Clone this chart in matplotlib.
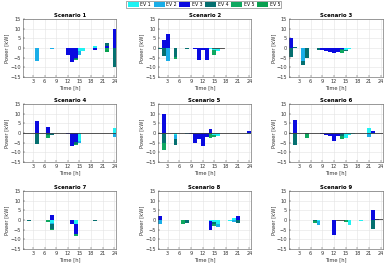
import matplotlib
matplotlib.use("Agg")
import matplotlib.pyplot as plt
import numpy as np

# hourly stacked power per EV (hour: kW), zero elsewhere
hours = np.arange(1, 25)
ev_labels = ["EV 1", "EV 2", "EV 3", "EV 4", "EV 5", "EV 5"]
ev_colors = ["#1ef2f2", "#1aaee8", "#0a0ae0", "#057070", "#0fa860", "#08a050"]

scenario1 = [
    {15: -1.5, 16: -1.6, 19: 1.2},
    {4: -7, 8: -0.5, 15: -2},
    {12: -3.5, 13: -7.3, 14: -5, 19: -0.9, 22: 1.2, 24: 10},
    {14: -0.8, 22: 1.3, 24: -10},
    {14: -0.6, 22: -1.2},
    {22: -0.8},
]
scenario2 = [
    {14: -0.5, 15: -1.2, 16: -1.5, 17: -0.3},
    {3: -7},
    {2: 4, 3: 7, 10: -0.8, 11: -6.5, 12: -1, 13: -6.5},
    {1: -0.8, 2: -4, 5: -4.8, 8: -0.7, 14: -0.3},
    {5: -0.7, 15: -2.3},
    {},
]
scenario3 = [
    {15: -1, 16: -0.8, 17: -0.3},
    {4: -7},
    {1: 5, 9: -1, 10: -1.5, 11: -2, 12: -2.5, 13: -2, 14: -0.5},
    {1: -4.5, 2: 0.3, 4: -2, 5: -5.3, 8: -1, 14: -0.7, 15: -0.4},
    {14: -1.3},
    {},
]
scenario4 = [
    {15: -4, 24: 2.5},
    {8: -0.8, 15: -1, 24: -2},
    {4: 6, 7: 3, 12: -0.4, 13: -7, 14: -4.5},
    {4: -5.5, 7: -1, 8: -0.3, 14: -1},
    {7: -1.5, 14: -1},
    {},
]
scenario5 = [
    {5: -1, 15: -1, 16: -1.7, 24: -0.8},
    {5: -2, 8: -0.5},
    {2: 10, 9: -0.5, 10: -5, 11: -3, 12: -7, 13: -2, 14: 2, 24: 1},
    {2: -5, 5: -3.5, 14: -0.5},
    {2: -4, 14: -2, 15: -1},
    {},
]
scenario6 = [
    {15: -2.5, 16: -1, 17: -0.5, 21: 2.3, 22: -0.8},
    {21: -2},
    {2: 6.5, 9: -0.8, 10: -1.2, 11: -1.5, 12: -4, 13: -1.5, 14: -0.5, 22: 0.8},
    {2: -6, 5: -0.5, 8: -0.3, 14: -1.3},
    {5: -2.3, 14: -1.5},
    {},
]
scenario7 = [
    {8: -1.5, 14: -2},
    {8: -0.5},
    {8: 2.5, 13: -2.2, 14: -5},
    {2: -0.3, 8: -2.5, 19: -0.3},
    {7: -1.2, 8: -0.8, 14: -1},
    {},
]
scenario8 = [
    {14: -0.5, 15: -1, 16: -2, 19: -0.5, 20: 1},
    {1: -2, 16: -1.5, 20: -1},
    {1: 2, 14: -4.5, 21: 2},
    {8: -1.5, 13: 0.2, 15: -1, 21: -1.5},
    {7: -1.8, 15: -1.2},
    {},
]
scenario9 = [
    {8: -0.5, 16: -2.8, 19: -0.3},
    {8: -2},
    {12: -7.5, 22: 5, 23: 0.5},
    {7: -0.3, 13: -0.2, 22: -4.5},
    {7: -1, 15: -0.8},
    {},
]
scenarios = [scenario1, scenario2, scenario3, scenario4, scenario5,
             scenario6, scenario7, scenario8, scenario9]

# dark net-power line segments (x start, x end, y)
net_lines = [[], [(14.5, 17.5, 0)], [], [(0.5, 24.5, 0)], [(0.5, 24.5, 0)],
             [(0.5, 24.5, 0)], [], [], [(12.5, 14.5, 0), (22.5, 24.5, 0.3)]]

fig = plt.figure(figsize=(3.92, 2.69), dpi=100)
lefts = [0.059, 0.403, 0.738]
bottoms = [0.714, 0.398, 0.074]
w, h = 0.238, 0.216

for i, sc in enumerate(scenarios):
    ax = fig.add_axes([lefts[i % 3], bottoms[i // 3], w, h])
    pos_base = np.zeros(24)
    neg_base = np.zeros(24)
    handles = []
    for k, ev in enumerate(sc):
        vals = np.array([ev.get(t, 0.0) for t in hours])
        bottom = np.where(vals >= 0, pos_base, neg_base)
        b = ax.bar(hours, vals, width=1.0, bottom=bottom, color=ev_colors[k],
                   edgecolor="none", label=ev_labels[k], zorder=2)
        handles.append(b)
        pos_base += np.clip(vals, 0, None)
        neg_base += np.clip(vals, None, 0)
    for x0, x1, y in net_lines[i]:
        ax.plot([x0, x1], [y, y], color="#3a3a3a", lw=0.6, zorder=3)

    ax.set_xlim(0.5, 24.5)
    ax.set_ylim(-15, 15)
    ax.set_xticks(range(3, 25, 3))
    ax.set_yticks(range(-15, 16, 5))
    ax.set_axisbelow(True)
    ax.grid(True, color="#e4e4e4", lw=0.4)
    ax.tick_params(direction="in", length=1.5, width=0.3, labelsize=3.6,
                   colors="#333333", pad=1.5)
    for s in ax.spines.values():
        s.set_linewidth(0.4)
        s.set_color("#555555")
    ax.set_title(f"Scenario {i + 1}", fontsize=3.9, fontweight="bold", pad=1.5)
    ax.set_xlabel("Time [h]", fontsize=3.7, labelpad=1, color="#333333")
    ax.set_ylabel("Power [kW]", fontsize=3.7, labelpad=0.5, color="#333333")

leg = fig.legend(handles, ev_labels, loc="upper center", bbox_to_anchor=(0.52, 1.0),
                 ncol=6, fontsize=3.3, frameon=True, fancybox=False,
                 handlelength=2.4, handleheight=1.2, handletextpad=0.35,
                 columnspacing=0.6, borderpad=0.25, borderaxespad=0.2)
leg.get_frame().set_edgecolor("#444444")
leg.get_frame().set_linewidth(0.4)

fig.savefig("out.png", dpi=100)
